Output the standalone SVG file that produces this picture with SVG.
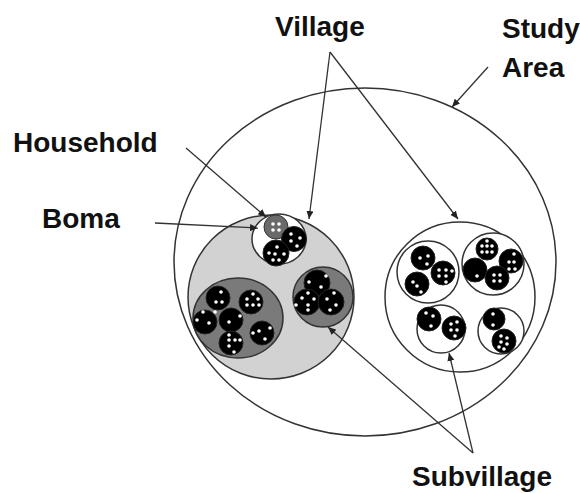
<svg xmlns="http://www.w3.org/2000/svg" width="580" height="493" viewBox="0 0 580 493">
<style>
.lbl{font-family:"Liberation Sans","Open Sans",Arial,sans-serif;font-weight:700;font-size:28px;fill:#111}
.ring{fill:none;stroke:#333;stroke-width:1.5}
.vil{fill:#d2d2d2;stroke:#333;stroke-width:1.5}
.wsub{fill:#fff;stroke:#333;stroke-width:1.5}
.gsub{fill:#7a7a7a;stroke:#333;stroke-width:1.5}
.hh{fill:#000;stroke:#222;stroke-width:1}
.ghh{fill:#6a6a6a;stroke:#333;stroke-width:1}
.d{fill:#fff}
.con{fill:none;stroke:#333;stroke-width:1.3}
</style>
<defs>
<marker id="ah" markerUnits="userSpaceOnUse" markerWidth="8" markerHeight="7" refX="8" refY="3.5" orient="auto">
<path d="M0,0 L8,3.5 L0,7 z" fill="#222"/>
</marker>
</defs>
<rect width="580" height="493" fill="#fff"/>

<g id="study-area">
<ellipse class="ring" cx="365" cy="262" rx="191" ry="174"/>
</g>

<g id="village-left">
<ellipse class="vil" cx="271" cy="297" rx="83" ry="82"/>
<g id="subvillage-top">
<ellipse class="wsub" cx="279" cy="239" rx="27" ry="25"/>
<g transform="translate(276,227)"><circle class="ghh" r="12"/><circle class="d" cx="-3" cy="-3" r="1.8"/><circle class="d" cx="3" cy="-3" r="1.8"/><circle class="d" cx="-3" cy="3" r="1.8"/><circle class="d" cx="3" cy="3" r="1.8"/></g>
<g transform="translate(294,239)"><circle class="hh" r="12.5"/><circle class="d" cx="-3" cy="-5" r="1.8"/><circle class="d" cx="6" cy="-1" r="1.8"/><circle class="d" cx="-3" cy="2" r="1.8"/><circle class="d" cx="3" cy="7" r="1.8"/></g>
<g transform="translate(276,253)"><circle class="hh" r="13"/><circle class="d" cx="1" cy="-6" r="1.8"/><circle class="d" cx="-7" cy="0" r="1.8"/><circle class="d" cx="8" cy="1" r="1.8"/><circle class="d" cx="-3" cy="7" r="1.8"/><circle class="d" cx="3" cy="7" r="1.8"/><circle class="d" cx="-1" cy="1" r="1.8"/></g>
</g>
<g id="boma-left">
<ellipse class="gsub" cx="238" cy="318" rx="45" ry="40"/>
<g transform="translate(218,298)"><circle class="hh" r="12"/><circle class="d" cx="3" cy="-6" r="1.8"/><circle class="d" cx="-2" cy="4" r="1.8"/><circle class="d" cx="4" cy="4" r="1.8"/></g>
<g transform="translate(251,302)"><circle class="hh" r="12"/><circle class="d" cx="2" cy="-8" r="1.8"/><circle class="d" cx="-4" cy="-3" r="1.8"/><circle class="d" cx="7" cy="-3" r="1.8"/><circle class="d" cx="-4" cy="3" r="1.8"/><circle class="d" cx="2" cy="3" r="1.8"/><circle class="d" cx="8" cy="3" r="1.8"/></g>
<g transform="translate(205,322)"><circle class="hh" r="12"/><circle class="d" cx="-2" cy="-10" r="1.8"/><circle class="d" cx="10" cy="-10" r="1.8"/><circle class="d" cx="-8" cy="-2" r="1.8"/><circle class="d" cx="4" cy="1" r="1.8"/></g>
<g transform="translate(231,320)"><circle class="hh" r="12"/><circle class="d" cx="9" cy="-4" r="1.8"/><circle class="d" cx="-2" cy="2" r="1.8"/></g>
<g transform="translate(262,333)"><circle class="hh" r="12"/><circle class="d" cx="-3" cy="-2" r="1.8"/><circle class="d" cx="8" cy="-5" r="1.8"/><circle class="d" cx="-9" cy="0" r="1.8"/><circle class="d" cx="3" cy="6" r="1.8"/></g>
<g transform="translate(231,343)"><circle class="hh" r="12"/><circle class="d" cx="-2" cy="-8" r="1.8"/><circle class="d" cx="-2" cy="-3" r="1.8"/><circle class="d" cx="4" cy="-3" r="1.8"/><circle class="d" cx="-2" cy="3" r="1.8"/><circle class="d" cx="9" cy="-3" r="1.8"/><circle class="d" cx="3" cy="9" r="1.8"/></g>
</g>
<g id="boma-right">
<circle class="gsub" cx="323" cy="297" r="30"/>
<g transform="translate(317,283)"><circle class="hh" r="13"/><circle class="d" cx="9" cy="-7" r="1.8"/><circle class="d" cx="-8" cy="-1" r="1.8"/><circle class="d" cx="4" cy="4" r="1.8"/></g>
<g transform="translate(307,302)"><circle class="hh" r="13"/><circle class="d" cx="1" cy="-9" r="1.8"/><circle class="d" cx="-5" cy="-4" r="1.8"/><circle class="d" cx="7" cy="-3" r="1.8"/><circle class="d" cx="1" cy="3" r="1.8"/><circle class="d" cx="-11" cy="3" r="1.8"/><circle class="d" cx="1" cy="8" r="1.8"/></g>
<g transform="translate(331,302)"><circle class="hh" r="13"/><circle class="d" cx="3" cy="-9" r="1.8"/><circle class="d" cx="-4" cy="-3" r="1.8"/><circle class="d" cx="5" cy="3" r="1.8"/><circle class="d" cx="-1" cy="8" r="1.8"/></g>
</g>
</g>

<g id="village-right">
<circle class="wsub" cx="460" cy="297" r="75"/>
<g id="subvillage-tl">
<circle class="wsub" cx="428" cy="272" r="31"/>
<g transform="translate(423,258)"><circle class="hh" r="12"/><circle class="d" cx="-3" cy="0" r="1.8"/><circle class="d" cx="5" cy="-2" r="1.8"/><circle class="d" cx="4" cy="6" r="1.8"/></g>
<g transform="translate(443,273)"><circle class="hh" r="12"/><circle class="d" cx="-4" cy="-3" r="1.8"/><circle class="d" cx="3" cy="-3" r="1.8"/><circle class="d" cx="9" cy="-2" r="1.8"/><circle class="d" cx="-4" cy="3" r="1.8"/><circle class="d" cx="3" cy="3" r="1.8"/><circle class="d" cx="3" cy="9" r="1.8"/></g>
<g transform="translate(417,284)"><circle class="hh" r="12"/><circle class="d" cx="-4" cy="-2" r="1.8"/><circle class="d" cx="0" cy="2" r="1.8"/><circle class="d" cx="4" cy="8" r="1.8"/></g>
</g>
<g id="subvillage-tr">
<circle class="wsub" cx="493" cy="264" r="31"/>
<g transform="translate(487,249)"><circle class="hh" r="11"/><circle class="d" cx="-5" cy="-3" r="1.8"/><circle class="d" cx="0" cy="-3" r="1.8"/><circle class="d" cx="5" cy="-3" r="1.8"/><circle class="d" cx="-5" cy="3" r="1.8"/><circle class="d" cx="0" cy="3" r="1.8"/><circle class="d" cx="5" cy="3" r="1.8"/><circle class="d" cx="0" cy="-8" r="1.8"/></g>
<g transform="translate(475,270)"><circle class="hh" r="12"/><circle class="d" cx="2" cy="6" r="1.8"/></g>
<g transform="translate(511,261)"><circle class="hh" r="12"/><circle class="d" cx="3" cy="-7" r="1.8"/><circle class="d" cx="-2" cy="1" r="1.8"/><circle class="d" cx="3" cy="1" r="1.8"/><circle class="d" cx="-2" cy="8" r="1.8"/><circle class="d" cx="4" cy="8" r="1.8"/></g>
<g transform="translate(497,278)"><circle class="hh" r="12"/><circle class="d" cx="-3" cy="-3" r="1.8"/><circle class="d" cx="3" cy="-3" r="1.8"/><circle class="d" cx="-3" cy="3" r="1.8"/><circle class="d" cx="3" cy="3" r="1.8"/></g>
</g>
<g id="subvillage-bl">
<circle class="wsub" cx="441" cy="329" r="24"/>
<g transform="translate(429,319)"><circle class="hh" r="12"/><circle class="d" cx="-3" cy="-6" r="1.8"/><circle class="d" cx="4" cy="-3" r="1.8"/><circle class="d" cx="2" cy="7" r="1.8"/></g>
<g transform="translate(454,328)"><circle class="hh" r="12"/><circle class="d" cx="-3" cy="-4" r="1.8"/><circle class="d" cx="3" cy="-6" r="1.8"/><circle class="d" cx="-3" cy="2" r="1.8"/><circle class="d" cx="3" cy="2" r="1.8"/><circle class="d" cx="1" cy="8" r="1.8"/></g>
</g>
<g id="subvillage-br">
<circle class="wsub" cx="501" cy="331" r="23"/>
<g transform="translate(494,319)"><circle class="hh" r="11"/><circle class="d" cx="-1" cy="-5" r="1.8"/><circle class="d" cx="-1" cy="6" r="1.8"/></g>
<g transform="translate(504,341)"><circle class="hh" r="12"/><circle class="d" cx="-3" cy="-5" r="1.8"/><circle class="d" cx="3" cy="-3" r="1.8"/><circle class="d" cx="-3" cy="1" r="1.8"/><circle class="d" cx="3" cy="3" r="1.8"/><circle class="d" cx="-5" cy="6" r="1.8"/><circle class="d" cx="0" cy="8" r="1.8"/></g>
</g>
</g>

<g id="connectors">
<line class="con" x1="330" y1="52" x2="309" y2="219" marker-end="url(#ah)"/>
<line class="con" x1="330" y1="52" x2="458" y2="219" marker-end="url(#ah)"/>
<line class="con" x1="488" y1="67" x2="452" y2="107" marker-end="url(#ah)"/>
<line class="con" x1="186" y1="148" x2="266" y2="217" marker-end="url(#ah)"/>
<line class="con" x1="155" y1="223" x2="258" y2="228" marker-end="url(#ah)"/>
<line class="con" x1="473" y1="453" x2="328" y2="327" marker-end="url(#ah)"/>
<line class="con" x1="473" y1="453" x2="449" y2="353" marker-end="url(#ah)"/>
</g>

<g id="labels">
<text class="lbl" x="275" y="36">Village</text>
<text class="lbl" x="502" y="38">Study</text>
<text class="lbl" x="502" y="77">Area</text>
<text class="lbl" x="13" y="152">Household</text>
<text class="lbl" x="42" y="228">Boma</text>
<text class="lbl" x="412" y="486">Subvillage</text>
</g>
</svg>
